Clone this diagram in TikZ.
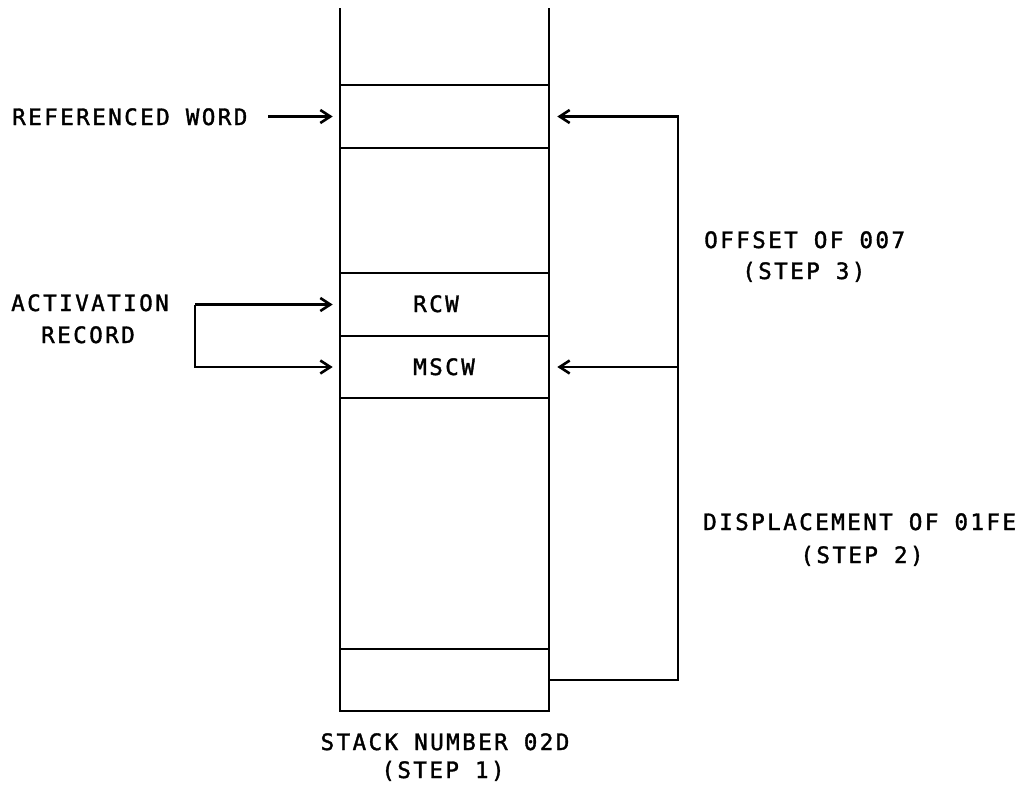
\documentclass[tikz,border=0pt]{standalone}
\usepackage{fontspec}
\newfontfamily\labfont[LetterSpace=10.6,FakeBold=1.5]{DejaVu Sans Mono}
\usetikzlibrary{arrows.meta}
\begin{document}
\begin{tikzpicture}[x=1pt,y=-1pt,
  lab/.style={font=\labfont\fontsize{22.6}{30}\selectfont, inner sep=0pt},
  ln/.style={line width=2.6pt},
  cell/.style={draw, line width=2.6pt, minimum width=209pt, minimum height=63pt, inner sep=0pt},
  arr/.style={line width=2.6pt, -{Straight Barb[length=10pt,width=13pt,line width=2.6pt]}}]
\useasboundingbox (0,0) rectangle (1025,788);
% stack
\draw[ln] (340,8) -- (340,711) -- (549,711) -- (549,8);
\node[cell] (refcell) at (444.5,116.5) {};
\node[cell, minimum height=125pt] (gapA) at (444.5,210.5) {};
\node[cell] (rcwcell) at (444.5,304.5) {};
\node[cell, minimum height=62pt] (mscwcell) at (444.5,367) {};
\node[cell, minimum height=251pt] (gapB) at (444.5,523.5) {};
\node[cell, minimum height=62pt] (basecell) at (444.5,680) {};
% texts
\node[lab, anchor=base west] (rcw) at (413,312) {RCW};
\node[lab, anchor=base west] (mscw) at (413,375) {MSCW};
\node[lab, anchor=base west] (reftxt) at (12,125) {REFERENCED WORD};
\node[lab, anchor=base] (act1) at (90,311) {ACTIVATION};
\node[lab, anchor=base] (act2) at (88,343) {RECORD};
\node[lab, anchor=base west] (off1) at (704,248) {OFFSET OF 007};
\node[lab, anchor=base west] (off2) at (742,279) {(STEP 3)};
\node[lab, anchor=base west] (dis1) at (703,530) {DISPLACEMENT OF 01FE};
\node[lab, anchor=base] (dis2) at (862,563) {(STEP 2)};
\node[lab, anchor=base] (stk1) at (445,750) {STACK NUMBER 02D};
\node[lab, anchor=base] (stk2) at (443,778) {(STEP 1)};
% connectors
\coordinate (refstart) at (268,116.5);
\draw[arr, shorten >=6pt] (refstart) -- (refcell.west);
\coordinate (lb) at (195,304.5);
\draw[arr, shorten >=6pt] (lb) -- (rcwcell.west);
\draw[arr, shorten >=6pt] (lb) |- (mscwcell.west);
\coordinate (rtop) at (678,116.5);
\draw[arr, shorten >=7pt] (basecell.east) -| (rtop) -- (refcell.east);
\draw[arr, shorten >=7pt] (rtop |- mscwcell.east) -- (mscwcell.east);
\end{tikzpicture}
\end{document}
